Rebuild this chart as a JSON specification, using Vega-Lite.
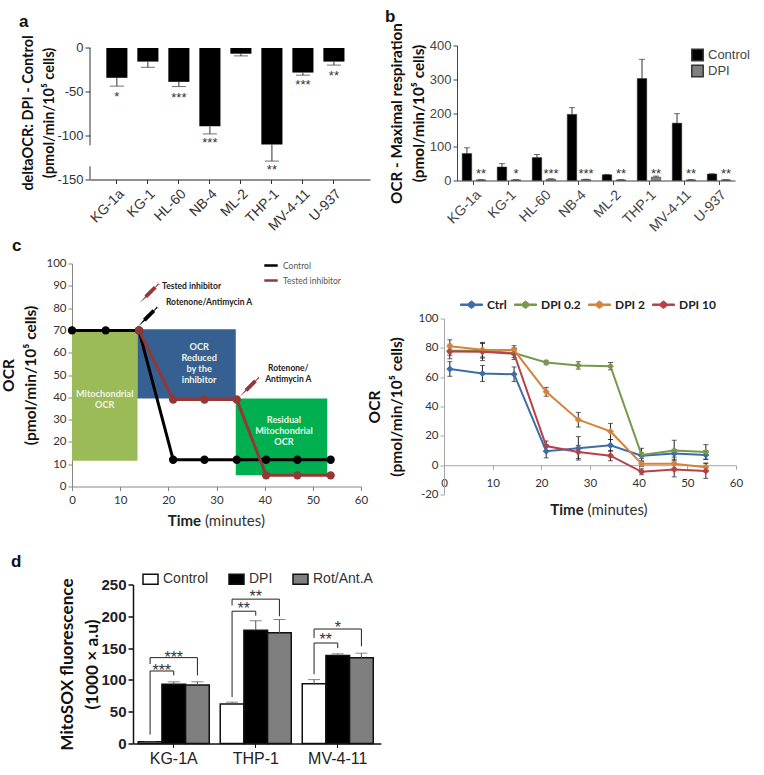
{
"$schema":"https://vega.github.io/schema/vega-lite/v6.json",
"background":"white",
"padding":{"left":1,"top":7.5,"right":0,"bottom":0},
"config":{"view":{"stroke":null},"axis":{"grid":false,"labelFont":"Liberation Sans","titleFont":"Lato","titleFontWeight":"bold","titleColor":"#111","labelColor":"#333","domainColor":"#333","tickColor":"#333"},"title":{"font":"Liberation Sans","fontSize":17,"fontWeight":"bold","color":"#111","anchor":"start","frame":"group"},"legend":{"labelColor":"#333","title":null}},
"datasets":{
"a":[{"cell":"KG-1a","value":-34,"err":-43.5},{"cell":"KG-1","value":-15.5,"err":-22},{"cell":"HL-60","value":-38.6,"err":-44},{"cell":"NB-4","value":-89.4,"err":-98},{"cell":"ML-2","value":-6.5,"err":-9},{"cell":"THP-1","value":-110,"err":-129},{"cell":"MV-4-11","value":-28,"err":-31},{"cell":"U-937","value":-15.5,"err":-19.5}],
"aStars":[{"cell":"KG-1a","y":-53,"s":"*"},{"cell":"HL-60","y":-54,"s":"***"},{"cell":"NB-4","y":-105,"s":"***"},{"cell":"THP-1","y":-136,"s":"**"},{"cell":"MV-4-11","y":-39,"s":"***"},{"cell":"U-937","y":-29,"s":"**"}],
"aAxis":[{"from":0,"to":-111},{"from":-135,"to":-150}],
"b":[{"cell":"KG-1a","series":"Control","value":80,"err":97},{"cell":"KG-1","series":"Control","value":40,"err":50},{"cell":"HL-60","series":"Control","value":68,"err":77},{"cell":"NB-4","series":"Control","value":196,"err":216},{"cell":"ML-2","series":"Control","value":17,"err":18},{"cell":"THP-1","series":"Control","value":302,"err":359},{"cell":"MV-4-11","series":"Control","value":170,"err":198},{"cell":"U-937","series":"Control","value":19,"err":20},{"cell":"KG-1a","series":"DPI","value":2,"err":2.5},{"cell":"KG-1","series":"DPI","value":2,"err":2.5},{"cell":"HL-60","series":"DPI","value":4,"err":5},{"cell":"NB-4","series":"DPI","value":3,"err":4},{"cell":"ML-2","series":"DPI","value":2,"err":2.5},{"cell":"THP-1","series":"DPI","value":10,"err":13},{"cell":"MV-4-11","series":"DPI","value":2,"err":2.5},{"cell":"U-937","series":"DPI","value":2,"err":2.5}],
"bStars":[{"cell":"KG-1a","y":26,"s":"**"},{"cell":"KG-1","y":26,"s":"*"},{"cell":"HL-60","y":26,"s":"***"},{"cell":"NB-4","y":26,"s":"***"},{"cell":"ML-2","y":26,"s":"**"},{"cell":"THP-1","y":26,"s":"**"},{"cell":"MV-4-11","y":26,"s":"**"},{"cell":"U-937","y":26,"s":"**"}],
"cRects":[{"region":"Mitochondrial OCR","x0":0,"x1":13.6,"y0":11.5,"y1":70},{"region":"OCR reduced","x0":13.6,"x1":34,"y0":39.5,"y1":70.5},{"region":"Residual OCR","x0":34,"x1":53,"y0":5,"y1":39.5}],
"cLabels":[{"x":6.8,"y":41.5,"t":"Mitochondrial\nOCR"},{"x":26.4,"y":62.7,"t":"OCR\nReduced\nby the\ninhibitor"},{"x":44,"y":30,"t":"Residual\nMitochondrial\nOCR"}],
"cLines":[{"time":0,"ocr":70,"series":"Control"},{"time":7,"ocr":70,"series":"Control"},{"time":13.9,"ocr":70,"series":"Control"},{"time":21,"ocr":12,"series":"Control"},{"time":27.5,"ocr":12,"series":"Control"},{"time":34.2,"ocr":12,"series":"Control"},{"time":40.3,"ocr":12,"series":"Control"},{"time":46.8,"ocr":12,"series":"Control"},{"time":53.7,"ocr":12,"series":"Control"},{"time":13.9,"ocr":70,"series":"Tested inhibitor"},{"time":21,"ocr":39,"series":"Tested inhibitor"},{"time":27.5,"ocr":39,"series":"Tested inhibitor"},{"time":34.2,"ocr":39,"series":"Tested inhibitor"},{"time":40.3,"ocr":5,"series":"Tested inhibitor"},{"time":46.8,"ocr":5,"series":"Tested inhibitor"},{"time":53.7,"ocr":5,"series":"Tested inhibitor"}],
"cNotes":[{"x":18.7,"y":90,"t":"Tested inhibitor","a":"l"},{"x":19.5,"y":82.8,"t":"Rotenone/Antimycin A","a":"l"},{"x":44.9,"y":53,"t":"Rotenone/\nAntimycin A","a":"c"}],
"cSyringes":[{"x":16.2,"y":87,"kind":"Tested inhibitor"},{"x":15.9,"y":76.5,"kind":"Control"},{"x":37,"y":45,"kind":"Tested inhibitor"}],
"cTime":[{"x":26.8,"y":-15.5,"t":"Time"}],
"cMin":[{"x":27.6,"y":-15.5,"t":"(minutes)"}],
"e":[
{"time":1.2,"ocr":65.6,"lo":60.6,"hi":70.6,"series":"Ctrl"},{"time":7.9,"ocr":62.5,"lo":57,"hi":68,"series":"Ctrl"},{"time":14.4,"ocr":62,"lo":57,"hi":67,"series":"Ctrl"},{"time":21,"ocr":9.5,"lo":5,"hi":14,"series":"Ctrl"},{"time":27.6,"ocr":11.5,"lo":3.5,"hi":19.5,"series":"Ctrl"},{"time":34.2,"ocr":13.5,"lo":9.5,"hi":17.5,"series":"Ctrl"},{"time":40.6,"ocr":6.5,"lo":4.5,"hi":8.5,"series":"Ctrl"},{"time":47.3,"ocr":8,"lo":5.5,"hi":10.5,"series":"Ctrl"},{"time":53.8,"ocr":7,"lo":4,"hi":10,"series":"Ctrl"},
{"time":1.2,"ocr":78,"lo":75,"hi":81,"series":"DPI 0.2"},{"time":7.9,"ocr":78,"lo":73,"hi":83,"series":"DPI 0.2"},{"time":14.4,"ocr":76.5,"lo":73.5,"hi":79.5,"series":"DPI 0.2"},{"time":21,"ocr":70,"lo":68.5,"hi":71.5,"series":"DPI 0.2"},{"time":27.6,"ocr":68,"lo":65.5,"hi":70.5,"series":"DPI 0.2"},{"time":34.2,"ocr":67.5,"lo":65,"hi":70,"series":"DPI 0.2"},{"time":40.6,"ocr":7,"lo":2.5,"hi":11.5,"series":"DPI 0.2"},{"time":47.3,"ocr":10,"lo":3,"hi":17,"series":"DPI 0.2"},{"time":53.8,"ocr":9,"lo":4,"hi":14,"series":"DPI 0.2"},
{"time":1.2,"ocr":81,"lo":76.5,"hi":85.5,"series":"DPI 2"},{"time":7.9,"ocr":78.7,"lo":73.7,"hi":83.7,"series":"DPI 2"},{"time":14.4,"ocr":78.5,"lo":75.5,"hi":81.5,"series":"DPI 2"},{"time":21,"ocr":50,"lo":47,"hi":53,"series":"DPI 2"},{"time":27.6,"ocr":31,"lo":26,"hi":36,"series":"DPI 2"},{"time":34.2,"ocr":23,"lo":17.5,"hi":28.5,"series":"DPI 2"},{"time":40.6,"ocr":1,"lo":-1,"hi":3,"series":"DPI 2"},{"time":47.3,"ocr":1,"lo":-2,"hi":4,"series":"DPI 2"},{"time":53.8,"ocr":-1.5,"lo":-4.5,"hi":1.5,"series":"DPI 2"},
{"time":1.2,"ocr":77.5,"lo":72.5,"hi":82.5,"series":"DPI 10"},{"time":7.9,"ocr":77.3,"lo":71.3,"hi":83.3,"series":"DPI 10"},{"time":14.4,"ocr":76,"lo":72,"hi":80,"series":"DPI 10"},{"time":21,"ocr":13,"lo":9.5,"hi":16.5,"series":"DPI 10"},{"time":27.6,"ocr":9,"lo":4.5,"hi":13.5,"series":"DPI 10"},{"time":34.2,"ocr":6.5,"lo":3,"hi":10,"series":"DPI 10"},{"time":40.6,"ocr":-4.5,"lo":-6.5,"hi":-2.5,"series":"DPI 10"},{"time":47.3,"ocr":-3,"lo":-8,"hi":2,"series":"DPI 10"},{"time":53.8,"ocr":-4,"lo":-9,"hi":1,"series":"DPI 10"}],
"eTime":[{"x":28.7,"y":-30.5,"t":"Time"}],
"eMin":[{"x":29.5,"y":-30.5,"t":"(minutes)"}],
"d":[{"group":"KG-1A","series":"Control","value":2.6,"err":2.6},{"group":"KG-1A","series":"DPI","value":93,"err":97},{"group":"KG-1A","series":"Rot/Ant.A","value":92,"err":97},{"group":"THP-1","series":"Control","value":62,"err":65},{"group":"THP-1","series":"DPI","value":178,"err":193},{"group":"THP-1","series":"Rot/Ant.A","value":174,"err":195},{"group":"MV-4-11","series":"Control","value":94,"err":100.5},{"group":"MV-4-11","series":"DPI","value":138.5,"err":141},{"group":"MV-4-11","series":"Rot/Ant.A","value":135,"err":142}],
"dBrackets":[
{"b":"k1","n":1,"group":"KG-1A","series":"Control","y":14},{"b":"k1","n":2,"group":"KG-1A","series":"Control","y":114},{"b":"k1","n":3,"group":"KG-1A","series":"DPI","y":114},{"b":"k1","n":4,"group":"KG-1A","series":"DPI","y":107},
{"b":"k2","n":1,"group":"KG-1A","series":"Control","y":125},{"b":"k2","n":2,"group":"KG-1A","series":"Control","y":135},{"b":"k2","n":3,"group":"KG-1A","series":"Rot/Ant.A","y":135},{"b":"k2","n":4,"group":"KG-1A","series":"Rot/Ant.A","y":107},
{"b":"t1","n":1,"group":"THP-1","series":"Control","y":73},{"b":"t1","n":2,"group":"THP-1","series":"Control","y":208},{"b":"t1","n":3,"group":"THP-1","series":"DPI","y":208},{"b":"t1","n":4,"group":"THP-1","series":"DPI","y":201},
{"b":"t2","n":1,"group":"THP-1","series":"Control","y":217},{"b":"t2","n":2,"group":"THP-1","series":"Control","y":227},{"b":"t2","n":3,"group":"THP-1","series":"Rot/Ant.A","y":227},{"b":"t2","n":4,"group":"THP-1","series":"Rot/Ant.A","y":200},
{"b":"m1","n":1,"group":"MV-4-11","series":"Control","y":109},{"b":"m1","n":2,"group":"MV-4-11","series":"Control","y":158},{"b":"m1","n":3,"group":"MV-4-11","series":"DPI","y":158},{"b":"m1","n":4,"group":"MV-4-11","series":"DPI","y":150},
{"b":"m2","n":1,"group":"MV-4-11","series":"Control","y":166},{"b":"m2","n":2,"group":"MV-4-11","series":"Control","y":180},{"b":"m2","n":3,"group":"MV-4-11","series":"Rot/Ant.A","y":180},{"b":"m2","n":4,"group":"MV-4-11","series":"Rot/Ant.A","y":153}],
"dInner":[{"group":"KG-1A","series":"DPI","y":118,"s":"***"},{"group":"THP-1","series":"DPI","y":216,"s":"**"},{"group":"MV-4-11","series":"DPI","y":167,"s":"**"}],
"dOuter":[{"group":"KG-1A","series":"DPI","y":139,"s":"***"},{"group":"THP-1","series":"DPI","y":235,"s":"**"},{"group":"MV-4-11","series":"DPI","y":187,"s":"*"}]
},
"spacing":0,"bounds":"flush",
"resolve":{"scale":{"color":"independent","fill":"independent"},"legend":{"color":"independent","fill":"independent"}},
"vconcat":[
{"spacing":0,"bounds":"flush","resolve":{"scale":{"color":"independent"},"legend":{"color":"independent"}},"hconcat":[
{"width":18,"height":1,"data":{"values":[]},"mark":"text","encoding":{}},
{"width":280,"height":134,
 "title":{"text":"a","dx":-71,"offset":3.5},
 "data":{"name":"a"},
 "encoding":{"x":{"field":"cell","type":"nominal","sort":null,"title":null,"scale":{"paddingInner":0.32,"paddingOuter":0.675,"align":0.39},"axis":{"labelAngle":-45,"labelFontSize":14,"tickSize":4,"labelPadding":3,"domainColor":"#222"}}},
 "layer":[
  {"mark":{"type":"bar","color":"black"},"encoding":{"y":{"field":"value","type":"quantitative","scale":{"domain":[-150,2.85],"nice":false,"zero":false},"axis":{"values":[0,-50,-100,-150],"tickCount":20,"domain":false,"labelFontSize":13,"tickSize":5,"titleFontSize":14.5,"titleLineHeight":21,"titlePadding":0.5,"labelExpr":"replace(datum.label,'−','-')","title":["deltaOCR: DPI - Control","(pmol/min/10⁵ cells)"]}}}},
  {"mark":{"type":"rule","color":"#333"},"encoding":{"y":{"field":"value","type":"quantitative"},"y2":{"field":"err"}}},
  {"mark":{"type":"tick","color":"#333","orient":"horizontal","size":14,"thickness":1},"encoding":{"y":{"field":"err","type":"quantitative"}}},
  {"data":{"name":"aStars"},"mark":{"type":"text","font":"Liberation Sans","fontSize":13,"color":"#333","dy":3},"encoding":{"y":{"field":"y","type":"quantitative"},"text":{"field":"s"}}},
  {"data":{"name":"aAxis"},"mark":{"type":"rule","color":"#333"},"encoding":{"x":{"value":0},"y":{"field":"from","type":"quantitative"},"y2":{"field":"to"}}}
 ]},
{"width":87,"height":1,"data":{"values":[]},"mark":"text","encoding":{}},
{"width":278,"height":135,
 "title":{"text":"b","dx":-72,"offset":-3.5},
 "data":{"name":"b"},
 "encoding":{"x":{"field":"cell","type":"nominal","sort":null,"title":null,"scale":{"domain":["KG-1a","KG-1","HL-60","NB-4","ML-2","THP-1","MV-4-11","U-937"],"paddingInner":0.2,"paddingOuter":0.07,"align":0.6},"axis":{"labelAngle":-45,"labelFontSize":14,"tickSize":4,"labelPadding":3,"labelColor":"#444","domainColor":"#444","tickColor":"#444"}}},
 "layer":[
  {"transform":[{"filter":"datum.series=='Control'"}],"mark":{"type":"bar","stroke":"#333","strokeWidth":0.5,"size":9.5,"xOffset":-7},"encoding":{"y":{"field":"value","type":"quantitative","stack":null,"scale":{"domain":[0,400],"nice":false},"axis":{"values":[0,100,200,300,400],"tickCount":20,"labelFontSize":13,"tickSize":4,"labelColor":"#444","domainColor":"#444","tickColor":"#444","titleFontSize":15.3,"titleLineHeight":22,"titlePadding":2.5,"title":["OCR - Maximal respiration","(pmol/min/10⁵ cells)"]}},"color":{"field":"series","type":"nominal","scale":{"domain":["Control","DPI"],"range":["black","#808080"]},"legend":{"orient":"none","legendX":234,"legendY":3,"symbolType":"square","symbolSize":130,"symbolStrokeColor":"#333","labelFontSize":13,"labelFont":"Liberation Sans","labelColor":"#444","rowPadding":-3}}}},
  {"transform":[{"filter":"datum.series=='DPI'"}],"mark":{"type":"bar","stroke":"#333","strokeWidth":0.5,"size":9.5,"xOffset":7},"encoding":{"y":{"field":"value","type":"quantitative","stack":null},"color":{"field":"series","type":"nominal"}}},
  {"transform":[{"filter":"datum.series=='Control'"}],"mark":{"type":"rule","color":"#333","xOffset":-7},"encoding":{"y":{"field":"value","type":"quantitative"},"y2":{"field":"err"}}},
  {"transform":[{"filter":"datum.series=='DPI'"}],"mark":{"type":"rule","color":"#333","xOffset":7},"encoding":{"y":{"field":"value","type":"quantitative"},"y2":{"field":"err"}}},
  {"transform":[{"filter":"datum.series=='Control'"}],"mark":{"type":"tick","color":"#333","orient":"horizontal","size":6,"thickness":1,"xOffset":-7},"encoding":{"y":{"field":"err","type":"quantitative"}}},
  {"transform":[{"filter":"datum.series=='DPI'"}],"mark":{"type":"tick","color":"#333","orient":"horizontal","size":6,"thickness":1,"xOffset":7},"encoding":{"y":{"field":"err","type":"quantitative"}}},
  {"data":{"name":"bStars"},"mark":{"type":"text","font":"Liberation Sans","fontSize":13,"color":"#333","dy":2,"dx":7},"encoding":{"y":{"field":"y","type":"quantitative"},"text":{"field":"s"}}}
 ]}
]},
{"width":1,"height":218,"data":{"values":[]},"mark":"text","encoding":{}},
{"spacing":0,"bounds":"flush","resolve":{"scale":{"color":"independent"},"legend":{"color":"independent"}},"hconcat":[
{"width":289,"height":223,
 "title":{"text":"c","dx":-60,"offset":3},
 "layer":[
  {"data":{"name":"cRects"},"mark":{"type":"rect"},"encoding":{"x":{"field":"x0","type":"quantitative","scale":{"domain":[0,60],"nice":false},"axis":{"values":[0,10,20,30,40,50,60],"tickCount":20,"labelFlush":false,"title":null,"labelFont":"Lato","labelFontSize":11.5,"labelPadding":4,"domainColor":"#868686","tickColor":"#868686","tickSize":4}},"x2":{"field":"x1"},"y":{"field":"y0","type":"quantitative","scale":{"domain":[0,100],"nice":false},"axis":{"values":[0,10,20,30,40,50,60,70,80,90,100],"tickCount":20,"labelFont":"Lato","labelFontSize":11.5,"domainColor":"#868686","tickColor":"#868686","tickSize":4,"titleFontSize":15.5,"titleLineHeight":22,"titlePadding":7.5,"title":["OCR","(pmol/min/10⁵ cells)"]}},"y2":{"field":"y1"},"fill":{"field":"region","type":"nominal","scale":{"domain":["Mitochondrial OCR","OCR reduced","Residual OCR"],"range":["#9bbb59","#376092","#00b050"]},"legend":null}}},
  {"data":{"name":"cLabels"},"mark":{"type":"text","font":"Lato","fontWeight":"bold","fontSize":9.2,"color":"#eef3e6","lineBreak":"\n","lineHeight":11},"encoding":{"x":{"field":"x","type":"quantitative"},"y":{"field":"y","type":"quantitative"},"text":{"field":"t"}}},
  {"data":{"name":"cLines"},"mark":{"type":"line","strokeWidth":3},"encoding":{"x":{"field":"time","type":"quantitative"},"y":{"field":"ocr","type":"quantitative"},"color":{"field":"series","type":"nominal","scale":{"domain":["Control","Tested inhibitor"],"range":["black","#953735"]},"legend":{"orient":"none","legendX":191,"legendY":-6,"symbolType":"stroke","symbolStrokeWidth":2.5,"symbolSize":180,"labelFont":"Lato","labelFontSize":8.5,"labelColor":"#555","rowPadding":2}}}},
  {"data":{"name":"cLines"},"mark":{"type":"point","filled":true,"size":70,"opacity":1},"encoding":{"x":{"field":"time","type":"quantitative"},"y":{"field":"ocr","type":"quantitative"},"color":{"field":"series","type":"nominal","legend":null}}},
  {"data":{"name":"cNotes"},"transform":[{"filter":"datum.a=='l'"}],"mark":{"type":"text","align":"left","font":"Lato","fontWeight":"bold","fontSize":8.5,"color":"#222"},"encoding":{"x":{"field":"x","type":"quantitative"},"y":{"field":"y","type":"quantitative"},"text":{"field":"t"}}},
  {"data":{"name":"cNotes"},"transform":[{"filter":"datum.a=='c'"}],"mark":{"type":"text","align":"center","font":"Lato","fontWeight":"bold","fontSize":8.5,"color":"#222","lineBreak":"\n","lineHeight":11},"encoding":{"x":{"field":"x","type":"quantitative"},"y":{"field":"y","type":"quantitative"},"text":{"field":"t"}}},
  {"data":{"name":"cSyringes"},"mark":{"type":"point","filled":true,"opacity":1,"size":440,"shape":"M-1,1L-.45,.35L-.53,.27L.37,-.63L.63,-.37L-.27,.53L-.35,.45Z M.45,-.5L.8,-.9L.65,-1L1,-.65L.9,-.8L.5,-.45Z"},"encoding":{"x":{"field":"x","type":"quantitative"},"y":{"field":"y","type":"quantitative"},"color":{"field":"kind","type":"nominal","legend":null}}},
  {"data":{"name":"cTime"},"mark":{"type":"text","align":"right","font":"Lato","fontWeight":"bold","fontSize":15,"color":"#222"},"encoding":{"x":{"field":"x","type":"quantitative"},"y":{"field":"y","type":"quantitative"},"text":{"field":"t"}}},
  {"data":{"name":"cMin"},"mark":{"type":"text","align":"left","font":"Lato","fontSize":15,"color":"#333"},"encoding":{"x":{"field":"x","type":"quantitative"},"y":{"field":"y","type":"quantitative"},"text":{"field":"t"}}}
 ]},
{"width":83,"height":1,"data":{"values":[]},"mark":"text","encoding":{}},
{"spacing":0,"bounds":"flush","resolve":{"scale":{"color":"independent"},"legend":{"color":"independent"}},"vconcat":[
{"width":1,"height":55,"data":{"values":[]},"mark":"text","encoding":{}},
{"width":292,"height":176,
 "layer":[
  {"data":{"name":"e"},"mark":{"type":"rule","color":"#222","strokeWidth":1},"encoding":{"x":{"field":"time","type":"quantitative","scale":{"domain":[0,60],"nice":false},"axis":{"values":[0,10,20,30,40,50,60],"tickCount":20,"labelFlush":false,"title":null,"labelFont":"Lato","labelFontSize":11.5,"domainColor":"#a6a6a6","tickColor":"#a6a6a6","tickSize":4,"offset":-29.3,"labelPadding":8}},"y":{"field":"lo","type":"quantitative","scale":{"domain":[-20,100],"nice":false},"axis":{"values":[-20,0,20,40,60,80,100],"tickCount":20,"labelFont":"Lato","labelFontSize":11.5,"domainColor":"#a6a6a6","tickColor":"#a6a6a6","tickSize":4,"labelExpr":"replace(datum.label,'−','-')","titleFontSize":15.5,"titleLineHeight":22,"titlePadding":13.5,"title":["OCR","(pmol/min/10⁵ cells)"]}},"y2":{"field":"hi"}}},
  {"data":{"name":"e"},"mark":{"type":"tick","color":"#222","orient":"horizontal","size":5,"thickness":1},"encoding":{"x":{"field":"time","type":"quantitative"},"y":{"field":"lo","type":"quantitative"}}},
  {"data":{"name":"e"},"mark":{"type":"tick","color":"#222","orient":"horizontal","size":5,"thickness":1},"encoding":{"x":{"field":"time","type":"quantitative"},"y":{"field":"hi","type":"quantitative"}}},
  {"data":{"name":"e"},"mark":{"type":"point","filled":true,"opacity":1,"size":50,"shape":"diamond"},"encoding":{"x":{"field":"time","type":"quantitative"},"y":{"field":"ocr","type":"quantitative"},"color":{"field":"series","type":"nominal","scale":{"domain":["Ctrl","DPI 0.2","DPI 2","DPI 10"],"range":["#3e6da6","#769a4a","#d6823a","#b8404a"]},"legend":{"orient":"none","direction":"horizontal","columns":4,"legendX":16,"legendY":-25.5,"symbolType":"M-1,-.07L-.35,-.07L0,-.35L.35,-.07L1,-.07L1,.07L.35,.07L0,.35L-.35,.07L-1,.07Z","symbolSize":484,"symbolStrokeWidth":1,"labelFont":"Lato","labelFontWeight":"bold","labelFontSize":12,"labelColor":"#222","columnPadding":5}}}},
  {"data":{"name":"e"},"mark":{"type":"line","strokeWidth":2},"encoding":{"x":{"field":"time","type":"quantitative"},"y":{"field":"ocr","type":"quantitative"},"color":{"field":"series","type":"nominal"}}},
  {"data":{"name":"eTime"},"mark":{"type":"text","align":"right","font":"Lato","fontWeight":"bold","fontSize":15,"color":"#222"},"encoding":{"x":{"field":"x","type":"quantitative"},"y":{"field":"y","type":"quantitative"},"text":{"field":"t"}}},
  {"data":{"name":"eMin"},"mark":{"type":"text","align":"left","font":"Lato","fontSize":15,"color":"#333"},"encoding":{"x":{"field":"x","type":"quantitative"},"y":{"field":"y","type":"quantitative"},"text":{"field":"t"}}}
 ]}
]}
]},
{"width":1,"height":321,"data":{"values":[]},"mark":"text","encoding":{}},
{"spacing":0,"bounds":"flush","resolve":{"scale":{"color":"independent"},"legend":{"color":"independent"}},"hconcat":[
{"width":61,"height":1,"data":{"values":[]},"mark":"text","encoding":{}},
{"width":{"step":23.67},"height":159,
 "title":{"text":"d","dx":-122,"offset":0},
 "encoding":{"x":{"field":"group","type":"nominal","sort":null,"title":null,"scale":{"domain":["KG-1A","THP-1","MV-4-11"],"paddingInner":0.134,"paddingOuter":0.078,"align":0.41},"axis":{"labelAngle":0,"labelFontSize":16,"labelPadding":2.5,"tickSize":4,"labelColor":"#222","domainColor":"#111","tickColor":"#111","domainWidth":1.5}},"xOffset":{"field":"series","type":"nominal","scale":{"domain":["Control","DPI","Rot/Ant.A"],"paddingInner":0,"paddingOuter":0}}},
 "layer":[
  {"data":{"name":"d"},"mark":{"type":"bar","stroke":"#111","strokeWidth":1.5},"encoding":{"y":{"field":"value","type":"quantitative","stack":null,"scale":{"domain":[0,250],"nice":false},"axis":{"values":[0,50,100,150,200,250],"tickCount":20,"labelFontSize":15,"labelFontWeight":"bold","labelColor":"#222","domainColor":"#111","tickColor":"#111","domainWidth":1.5,"tickWidth":1.5,"tickSize":5,"titleFontSize":17.2,"titleLineHeight":25,"titlePadding":-1,"title":["MitoSOX fluorescence","(1000 × a.u)"]}},"color":{"field":"series","type":"nominal","scale":{"domain":["Control","DPI","Rot/Ant.A"],"range":["white","black","#7f7f7f"]},"legend":{"orient":"none","direction":"horizontal","columns":3,"legendX":9,"legendY":-14,"symbolType":"M-1,-.67L1,-.67L1,.67L-1,.67Z","symbolSize":225,"symbolStrokeColor":"#111","symbolStrokeWidth":1.5,"labelFont":"Liberation Sans","labelFontSize":14,"labelColor":"#333","columnPadding":17}}}},
  {"data":{"name":"d"},"mark":{"type":"rule","color":"#555"},"encoding":{"y":{"field":"value","type":"quantitative"},"y2":{"field":"err"}}},
  {"data":{"name":"d"},"mark":{"type":"tick","color":"#555","orient":"horizontal","size":12,"thickness":1},"encoding":{"y":{"field":"err","type":"quantitative"}}},
  {"data":{"name":"dBrackets"},"mark":{"type":"line","color":"#222","strokeWidth":1,"interpolate":"linear"},"encoding":{"y":{"field":"y","type":"quantitative"},"detail":{"field":"b"},"order":{"field":"n"}}},
  {"data":{"name":"dInner"},"mark":{"type":"text","font":"Liberation Sans","fontSize":16,"color":"#333","dx":-12,"dy":3,"baseline":"middle"},"encoding":{"y":{"field":"y","type":"quantitative"},"text":{"field":"s"}}},
  {"data":{"name":"dOuter"},"mark":{"type":"text","font":"Liberation Sans","fontSize":16,"color":"#333","dy":3,"baseline":"middle"},"encoding":{"y":{"field":"y","type":"quantitative"},"text":{"field":"s"}}}
 ]}
]}
]
}
